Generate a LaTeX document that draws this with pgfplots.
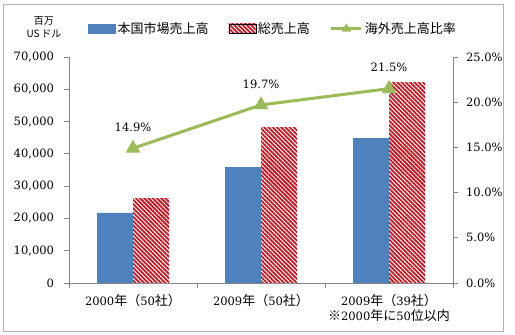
\documentclass[border=0pt]{standalone}
\usepackage{fontspec}
\setmainfont{DejaVu Serif}
\newfontfamily\cjk{Noto Sans CJK JP}
\newcommand\jp[1]{{\fontsize{13bp}{15bp}\selectfont\cjk #1}}
\usepackage{pgfplots}
\pgfplotsset{compat=1.18}
\usetikzlibrary{patterns.meta}
\definecolor{cblue}{HTML}{4F81BD}
\definecolor{cred}{RGB}{200,20,30}
\definecolor{cgreen}{HTML}{9BBB59}
\definecolor{caxis}{HTML}{868686}
\begin{document}
\fontsize{11.5bp}{15bp}\selectfont
\begin{tikzpicture}[x=1bp,y=1bp]
\useasboundingbox (0,0) rectangle (515,334);
\draw[gray!60, line width=0.8bp] (3,3) rectangle (503,330);
\node[align=center, font=\fontsize{10bp}{13bp}\selectfont\cjk] at (44,307) {百万\\US\,ドル};
\begin{axis}[
  at={(69bp,51bp)}, anchor=south west,
  scale only axis, width=384bp, height=226bp,
  xmin=-0.5, xmax=2.5, ymin=0, ymax=70000,
  axis y line*=left, axis x line*=bottom,
  axis line style={caxis, line width=0.8bp},
  ytick={0,10000,...,70000},
  scaled y ticks=false,
  /pgf/number format/assume math mode=true,
  yticklabel style={/pgf/number format/1000 sep={,}, xshift=-6bp},
  xtick={0,1,2},
  xticklabels={{2000\jp{年（}50\jp{社）}},{2009\jp{年（}50\jp{社）}},{2009\jp{年（}39\jp{社）}\\\jp{※}2000\jp{年に}50\jp{位以内}}},
  xticklabel style={align=center, yshift=-2bp},
  major x tick style={draw=none},
  minor xtick={-0.5,0.5,1.5,2.5},
  tick align=outside, tick pos=left,
  major tick length=5bp, minor tick length=5bp,
  tick style={caxis, line width=0.8bp},
  ybar=0pt, bar width=36bp,
  clip=false,
]
\addplot[draw=none, fill=cblue] coordinates {(0,21700) (1,35900) (2,44900)};
\addplot[draw=none, fill=white, postaction={pattern={Lines[angle=-45,distance=3bp,line width=1.8bp]}, pattern color=cred}] coordinates {(0,26300) (1,48300) (2,62200)};
\end{axis}
\begin{axis}[
  at={(69bp,51bp)}, anchor=south west,
  scale only axis, width=384bp, height=226bp,
  xmin=-0.5, xmax=2.5, ymin=0, ymax=25,
  axis y line*=right, axis x line=none,
  axis line style={caxis, line width=0.8bp},
  ytick={0,5,...,25},
  /pgf/number format/assume math mode=true,
  yticklabel={\pgfmathprintnumber[fixed,fixed zerofill,precision=1]{\tick}\%},
  yticklabel style={xshift=4bp},
  tick align=outside,
  major tick length=5bp,
  tick style={caxis, line width=0.8bp},
  clip=false,
  legend columns=3,
  legend style={draw=none, fill=none, at={(0.5,1)}, anchor=south, xshift=12bp, yshift=18bp,
    font=\fontsize{13bp}{15bp}\selectfont\cjk, /tikz/every even column/.append style={column sep=18bp}},
]
\addlegendimage{legend image code/.code={\fill[cblue] (0bp,-4.5bp) rectangle (27bp,4.5bp);}}
\addlegendentry{本国市場売上高}
\addlegendimage{legend image code/.code={\fill[white] (0bp,-4.5bp) rectangle (27bp,4.5bp); \fill[pattern={Lines[angle=-45,distance=3bp,line width=1.8bp]}, pattern color=cred] (0bp,-4.5bp) rectangle (27bp,4.5bp);}}
\addlegendentry{総売上高}
\addlegendimage{legend image code/.code={\draw[cgreen, line width=3bp] (0bp,0bp) -- (30bp,0bp); \fill[cgreen] (15bp,0bp) ++(-4.5bp,-3bp) -- ++(9bp,0) -- ++(-4.5bp,7.5bp) -- cycle;}}
\addlegendentry{海外売上高比率}
\addplot[cgreen, line width=3bp, mark=triangle*, mark size=5.5bp, mark options={solid},
  nodes near coords={\pgfmathprintnumber[fixed,fixed zerofill,precision=1]{\pgfplotspointmeta}\%},
  point meta=y,
  nodes near coords style={black, anchor=center, yshift=21bp, /pgf/number format/assume math mode=true}] coordinates {(0,14.9) (1,19.7) (2,21.5)};
\end{axis}
\end{tikzpicture}
\end{document}
